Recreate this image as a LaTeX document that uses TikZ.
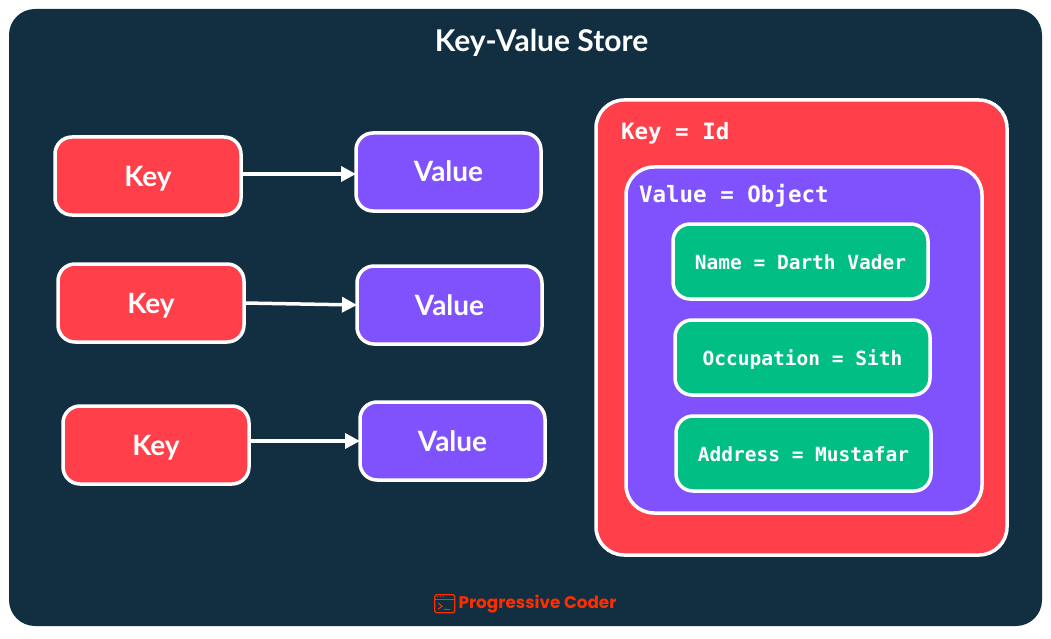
\documentclass[tikz,border=0pt]{standalone}
\usepackage{fontspec}
\setmainfont{Lato}
\setmonofont{DejaVu Sans Mono}
\newfontfamily\brandfont{Poppins}
\usetikzlibrary{positioning,arrows.meta}
\definecolor{storebg}{HTML}{122F41}
\definecolor{keyred}{HTML}{FF3F4A}
\definecolor{valpurple}{HTML}{8052FD}
\definecolor{attrgreen}{HTML}{00BE84}
\definecolor{brandred}{HTML}{FF2C00}

\begin{document}
\begin{tikzpicture}[
box/.style={rectangle, draw=white, line width=3.5pt, rounded corners=17pt, outer sep=0pt, text=white, font=\bfseries\fontsize{28}{32}\selectfont},
keybox/.style={box, fill=keyred, minimum width=186pt, minimum height=78pt, text height=26pt, text depth=6pt},
valuebox/.style={box, fill=valpurple, minimum width=185pt, minimum height=78pt, text height=26pt, text depth=6pt},
attrbox/.style={box, fill=attrgreen, minimum width=255pt, minimum height=75pt, text height=19pt, text depth=4pt, font=\ttfamily\bfseries\fontsize{19.5}{22}\selectfont},
caption/.style={inner sep=0pt, outer sep=0pt, text=white, font=\ttfamily\bfseries\fontsize{22.5}{26}\selectfont},
link/.style={draw=white, line width=3.5pt, -{Triangle[length=15pt,width=15pt]}},
]
\useasboundingbox (0pt,0pt) rectangle (1051pt,-639pt);

% Fond
\node[fill=storebg, rounded corners=26pt, minimum width=1033pt, minimum height=617pt, outer sep=0pt] (store) at (525.5pt,-317.5pt) {};
\node[inner sep=0pt, text=white, font=\bfseries\fontsize{30}{36}\selectfont, below=34pt of store.north, xshift=16pt, anchor=center] (title) {Key-Value Store};

% Paires
\node[keybox, below right=128pt and 46pt of store.north west] (key1) {Key};
\node[keybox, below=49pt of key1, xshift=3pt] (key2) {Key};
\node[keybox, below=64pt of key2, xshift=5pt] (key3) {Key};
\node[valuebox, right=115pt of key1, yshift=4pt] (val1) {Value};
\node[valuebox, right=113pt of key2, yshift=-2pt] (val2) {Value};
\node[valuebox, right=111pt of key3, yshift=4pt] (val3) {Value};

\draw[link] ([yshift=2pt]key1.east) -- ([yshift=-2pt]val1.west);
\draw[link] (key2.east) -- (val2.west);
\draw[link] ([yshift=4pt]key3.east) -- (val3.west);

% Objet
\node[box, fill=keyred, rounded corners=28pt, minimum width=411pt, minimum height=455pt, below right=91pt and 587pt of store.north west] (idbox) {};
\node[box, fill=valpurple, rounded corners=28pt, minimum width=356pt, minimum height=346pt, below right=67pt and 30pt of idbox.north west] (objbox) {};
\node[caption, below right=22pt and 25pt of idbox.north west] (idlabel) {Key = Id};
\node[caption, below right=17pt and 13pt of objbox.north west] (objlabel) {Value = Object};
\node[attrbox, below right=57pt and 47pt of objbox.north west] (attr1) {Name = Darth Vader};
\node[attrbox, below=21pt of attr1, xshift=2pt] (attr2) {Occupation = Sith};
\node[attrbox, below=21pt of attr2, xshift=1pt] (attr3) {Address = Mustafar};

% Marque
\node[inner sep=0pt, text=brandred, font=\brandfont\bfseries\fontsize{16.8}{20}\selectfont, above=13pt of store.south, xshift=12pt] (brand) {Progressive Coder};
\node[draw=brandred, line width=1.2pt, rounded corners=1.5pt, minimum width=20pt, minimum height=18pt, inner sep=0pt, left=3pt of brand] (icon) {};
\draw[brandred, line width=1.2pt] ([yshift=-5pt]icon.north west) -- ([yshift=-5pt]icon.north east);
\draw[brandred, line width=1pt] ([xshift=4pt,yshift=-9pt]icon.north west) -- ([xshift=8pt,yshift=-12pt]icon.north west) -- ([xshift=4pt,yshift=-15pt]icon.north west);
\draw[brandred, line width=1pt] ([xshift=10pt,yshift=-15pt]icon.north west) -- ([xshift=16pt,yshift=-15pt]icon.north west);
\foreach \dotx in {3,6,9} {
  \fill[brandred] ([xshift=\dotx pt,yshift=-2.5pt]icon.north west) circle (0.7pt);
}
\end{tikzpicture}
\end{document}
